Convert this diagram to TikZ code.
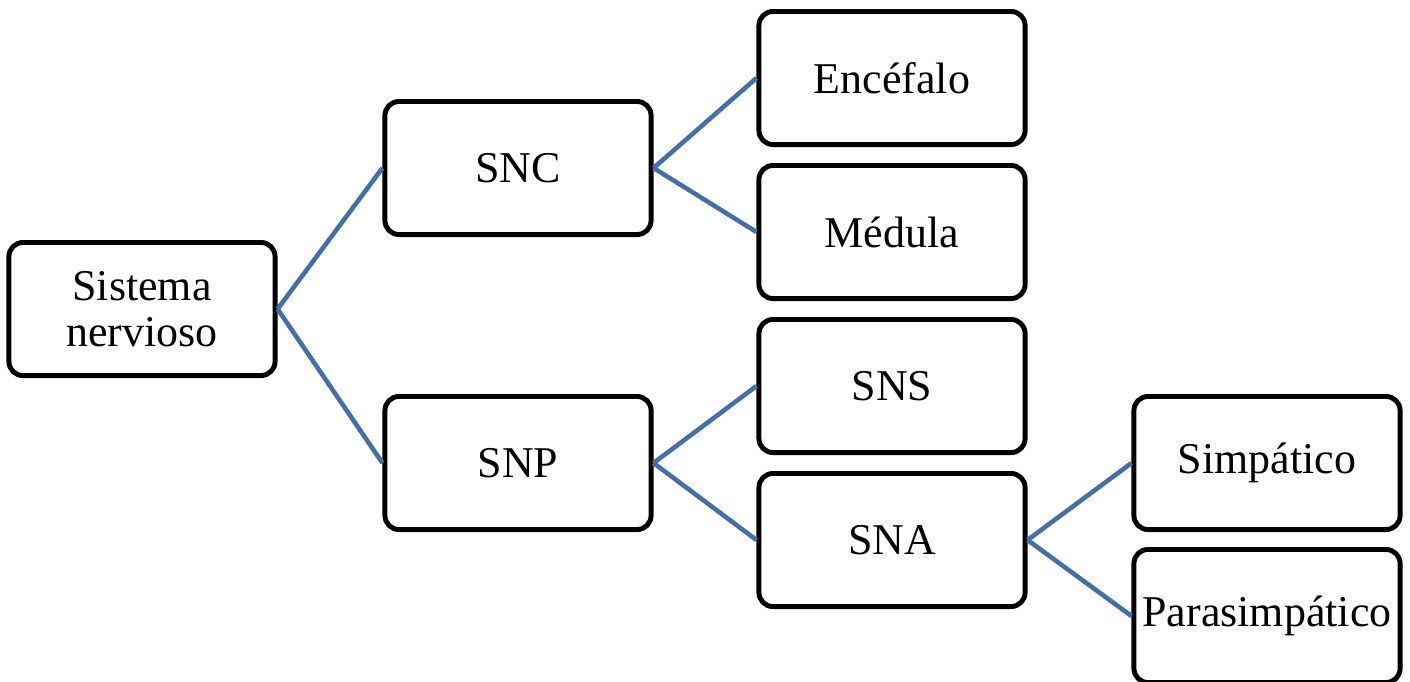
\documentclass[tikz,border=0pt]{standalone}
\usepackage{fontspec}
\setmainfont{Liberation Serif}
\usetikzlibrary{positioning}
\definecolor{linkblue}{RGB}{70,111,165}

\begin{document}
\begin{tikzpicture}[
        x=0.01cm, y=-0.01cm,
        box/.style={draw, line width=1.4pt, rounded corners=0.14cm, minimum width=2.66cm, minimum height=1.33cm, inner xsep=1pt, align=center, fill=white, font=\fontsize{12.5}{13}\selectfont},
        branch/.style={draw=linkblue, line width=1.3pt}
    ]
    \useasboundingbox (0,0) rectangle (1410,681);

    \node[box] (sn) at (142,309) {Sistema\\ nervioso};
    \node[box] (snc) at (518,168) {SNC};
    \node[box] (snp) at (518,463) {SNP};

    \node[box] (encefalo) at (892,78) {Encéfalo};
    \node[box] (medula) at (892,232) {Médula};
    \node[box] (sns) at (892,386) {SNS};
    \node[box] (sna) at (892,540) {SNA};

    \node[box] (simpatico) at (1267,463) {Simpático};
    \node[box] (parasimpatico) at (1267,616) {Parasimpático};

    \draw[branch] (sn.east) -- (snc.west);
    \draw[branch] (sn.east) -- (snp.west);

    \draw[branch] (snc.east) -- (encefalo.west);
    \draw[branch] (snc.east) -- (medula.west);
    \draw[branch] (snp.east) -- (sns.west);
    \draw[branch] (snp.east) -- (sna.west);

    \draw[branch] (sna.east) -- (simpatico.west);
    \draw[branch] (sna.east) -- (parasimpatico.west);

\end{tikzpicture}
\end{document}
